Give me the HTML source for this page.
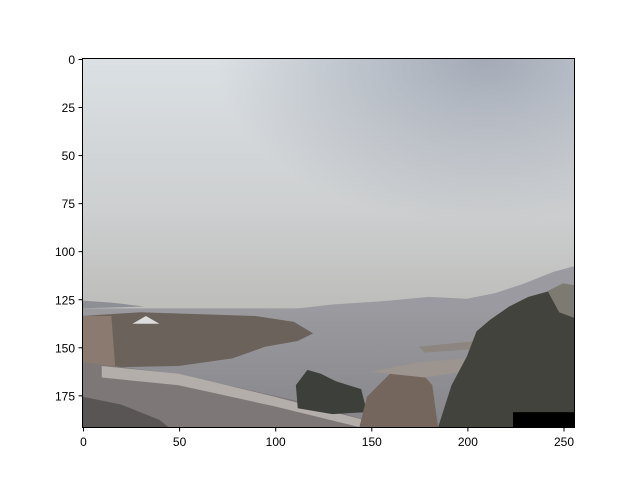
<!DOCTYPE html>
<html><head><meta charset="utf-8"><style>
html,body{margin:0;padding:0;background:#fff;}
svg{display:block;font-family:"Liberation Sans",sans-serif;}
</style></head><body>
<svg width="640" height="480" viewBox="0 0 640 480">
<defs>
<linearGradient id="sky" x1="0" y1="0" x2="0" y2="1">
<stop offset="0" stop-color="#dae0e4"/><stop offset="0.6" stop-color="#cdcfd0"/><stop offset="1" stop-color="#bcbcb9"/>
</linearGradient>
<radialGradient id="skyDark" cx="0.82" cy="0.0" r="0.55" gradientTransform="scale(1,1.2)">
<stop offset="0" stop-color="#9ea4b1" stop-opacity="0.9"/><stop offset="1" stop-color="#9ea4b1" stop-opacity="0"/>
</radialGradient>
<linearGradient id="water" x1="0" y1="0" x2="0" y2="1">
<stop offset="0" stop-color="#9b9b9f"/><stop offset="1" stop-color="#86858a"/>
</linearGradient>
<clipPath id="clip"><rect x="0" y="0" width="256" height="192"/></clipPath>
</defs>
<g transform="translate(82.5,58.5) scale(1.922)" clip-path="url(#clip)">
<rect x="0" y="0" width="256" height="132" fill="url(#sky)"/>
<rect x="0" y="0" width="256" height="132" fill="url(#skyDark)"/>
<rect x="0" y="130" width="256" height="62" fill="url(#water)"/>
<polygon points="95,132 130,128 160,126 180,124 200,125 215,122 230,117 245,111 256,108 256,132 95,132" fill="#9a9aa0"/>
<polygon points="0,126 15,127 32,129 0,130" fill="#8e8e95"/>
<polygon points="0,134 30,132 60,133 90,134 110,137 120,143 112,147 95,150 78,156 50,160 0,161" fill="#6c625c"/>
<polygon points="0,134 15,134 17,160 0,160" fill="#8a7a70"/>
<polygon points="26,138 33,134 40,138" fill="#dcdcdc"/>
<polygon points="0,158 40,163 80,171 120,180 160,192 0,192" fill="#7d7777"/>
<polygon points="10,160 50,164 100,176 150,189 160,192 145,192 100,181 50,170 10,166" fill="#b3aea9"/>
<polygon points="0,176 20,180 40,188 45,192 0,192" fill="#5a5555"/>
<polygon points="111,170 117,162 124,164 132,168 145,172 148,184 130,185 112,182" fill="#3d403a"/>
<polygon points="144,192 148,176 160,164 175,162 182,170 185,192" fill="#75665d"/>
<polygon points="150,163 175,158 200,156 205,162 178,166" fill="#9c948e"/>
<polygon points="175,150 205,147 207,151 178,153" fill="#8d8580"/>
<polygon points="185,192 192,170 200,155 205,142 212,136 222,129 232,124 243,121 256,119 256,192" fill="#42433c"/>
<polygon points="242,121 250,117 256,118 256,135 248,132" fill="#7d7a72"/>
<rect x="224" y="184" width="32" height="8" fill="#000"/>
</g>
<rect x="82.5" y="58.5" width="492" height="369" fill="none" stroke="#000" stroke-width="1"/>
<g id="ticks" font-size="12" fill="#000"></g>
<script>
const xTicks=[0,50,100,150,200,250];
const yTicks=[0,25,50,75,100,125,150,175];
const g=document.getElementById('ticks');
const ns='http://www.w3.org/2000/svg';
function sx(v){return 83.5+v*1.922;}
function sy(v){return 59.5+v*1.922;}
xTicks.forEach(v=>{
 const l=document.createElementNS(ns,'line');
 l.setAttribute('x1',sx(v));l.setAttribute('x2',sx(v));l.setAttribute('y1',427.5);l.setAttribute('y2',431.5);l.setAttribute('stroke','#000');
 
 
 g.appendChild(l);
 const t=document.createElementNS(ns,'text');
 t.setAttribute('x',sx(v));t.setAttribute('y',446);t.setAttribute('text-anchor','middle');t.textContent=v;
 
 
 g.appendChild(t);
});
yTicks.forEach(v=>{
 const l=document.createElementNS(ns,'line');
 l.setAttribute('x1',78.5);l.setAttribute('x2',82.5);l.setAttribute('y1',sy(v));l.setAttribute('y2',sy(v));l.setAttribute('stroke','#000');
 
 
 g.appendChild(l);
 const t=document.createElementNS(ns,'text');
 t.setAttribute('x',75);t.setAttribute('y',sy(v)+4.5);t.setAttribute('text-anchor','end');t.textContent=v;
 
 
 g.appendChild(t);
});
</script>
</svg>
</body></html>
